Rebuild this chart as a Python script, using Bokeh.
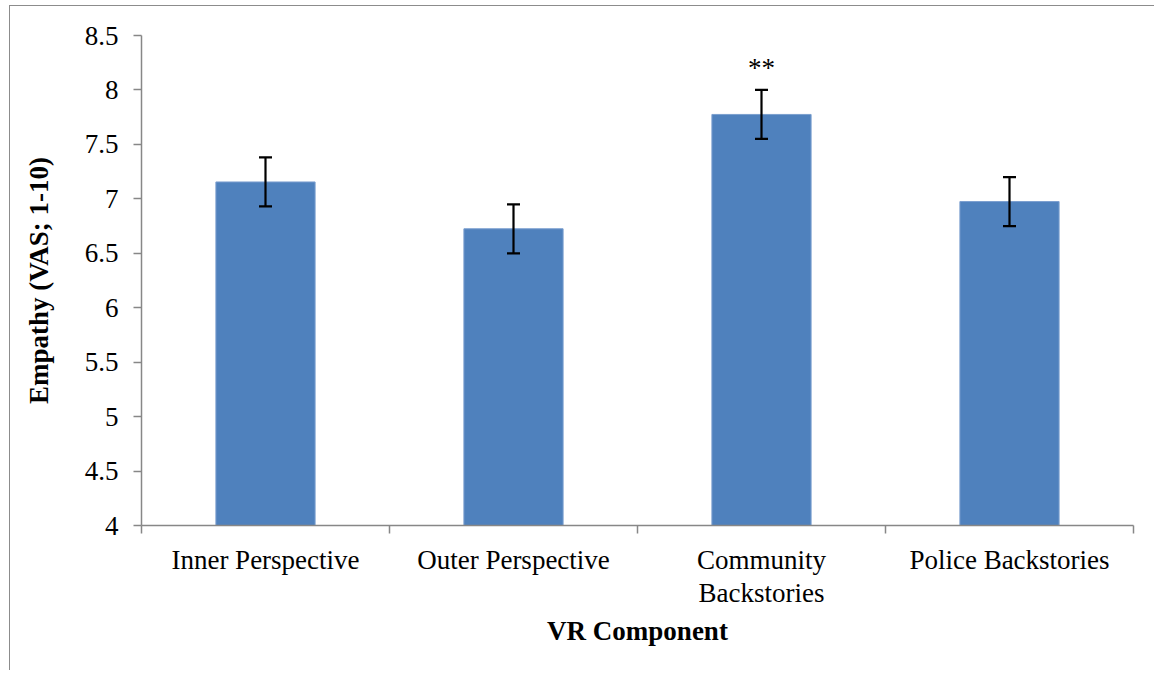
from bokeh.plotting import figure
from bokeh.models import Range1d, FixedTicker, ColumnDataSource, Whisker, TeeHead
from bokeh.core.properties import value
from bokeh.embed import file_html
from bokeh.resources import INLINE

categories = ["Inner Perspective", "Outer Perspective", "Community\nBackstories", "Police Backstories"]
means = [7.155, 6.725, 7.775, 6.975]
errors = [0.225, 0.225, 0.225, 0.225]
marks = ["", "", "**", ""]
y_ticks = [4, 4.5, 5, 5.5, 6, 6.5, 7, 7.5, 8, 8.5]
y_tick_labels = ["4", "4.5", "5", "5.5", "6", "6.5", "7", "7.5", "8", "8.5"]

FONT = "Liberation Serif"
AXIS_COLOR = "#878787"

xs = [i + 0.5 for i in range(len(categories))]
src = ColumnDataSource(dict(
    x=xs, top=means,
    upper=[m + e for m, e in zip(means, errors)],
    lower=[m - e for m, e in zip(means, errors)],
    mark=marks,
    mark_y=[m + e + 0.2 for m, e in zip(means, errors)],
))

W, H = 1145, 665
p = figure(width=W, height=H, output_backend="svg", toolbar_location=None,
           x_range=Range1d(0, len(categories)), y_range=Range1d(4, 8.5),
           min_border_left=131, min_border_right=W - 1123,
           min_border_top=29, min_border_bottom=H - 519)
p.styles = {"border-left": "1px solid #8c8c8c", "border-top": "1px solid #8c8c8c",
            "margin-top": "5px", "margin-left": "9px"}
p.outline_line_color = None
p.xgrid.grid_line_color = None
p.ygrid.grid_line_color = None

bars = p.vbar(x="x", top="top", bottom=4, width=0.4, source=src,
              fill_color="#4F81BD", line_color="#7b9fcf", line_width=1)
bars.level = "underlay"

w = Whisker(base="x", upper="upper", lower="lower", source=src,
            line_color="black", line_width=2.2,
            upper_head=TeeHead(size=13, line_color="black", line_width=2.2),
            lower_head=TeeHead(size=13, line_color="black", line_width=2.2))
w.level = "overlay"
p.add_layout(w)

p.text(x="x", y="mark_y", text="mark", source=src, text_align="center",
       text_baseline="middle", text_font=value(FONT), text_font_size="27px",
       text_color="black")

# y axis
ya = p.yaxis[0]
ya.ticker = FixedTicker(ticks=y_ticks)
ya.major_label_overrides = {t: l for t, l in zip(y_ticks, y_tick_labels)}
ya.minor_tick_line_color = None
ya.major_tick_in = 0
ya.major_tick_out = 8
ya.major_label_standoff = 15
ya.axis_line_color = AXIS_COLOR
ya.axis_line_width = 1.5
ya.major_tick_line_color = AXIS_COLOR
ya.major_tick_line_width = 1.5
ya.major_label_text_font = FONT
ya.major_label_text_font_size = "27px"
ya.major_label_text_color = "black"
ya.axis_label = "Empathy (VAS; 1-10)"
ya.axis_label_text_font = FONT
ya.axis_label_text_font_style = "bold"
ya.axis_label_text_font_size = "27px"
ya.axis_label_text_color = "black"
ya.axis_label_standoff = 28

# x axis
xa = p.xaxis[0]
xa.ticker = FixedTicker(ticks=xs, minor_ticks=list(range(len(categories) + 1)))
xa.major_label_overrides = {x: c for x, c in zip(xs, categories)}
xa.major_tick_in = 0
xa.major_tick_out = 0
xa.minor_tick_in = 0
xa.minor_tick_out = 8
xa.minor_tick_line_color = AXIS_COLOR
xa.minor_tick_line_width = 1.5
xa.axis_line_color = AXIS_COLOR
xa.axis_line_width = 1.5
xa.major_label_standoff = 11
xa.major_label_text_font = FONT
xa.major_label_text_font_size = "27px"
xa.major_label_text_line_height = 1.1
xa.major_label_text_color = "black"
xa.axis_label = "VR Component"
xa.axis_label_text_font = FONT
xa.axis_label_text_font_style = "bold"
xa.axis_label_text_font_size = "27px"
xa.axis_label_text_color = "black"
xa.axis_label_standoff = 5

open("out.html", "w").write(file_html(p, INLINE))
